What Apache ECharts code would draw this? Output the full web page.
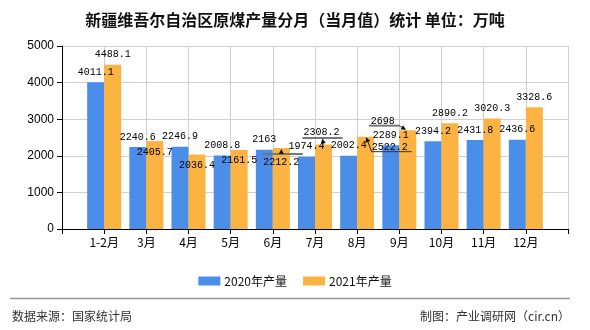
<!DOCTYPE html>
<html>
<head>
<meta charset="utf-8">
<script src="https://cdn.jsdelivr.net/npm/echarts@6/dist/echarts.min.js"></script>
<style>
html,body{margin:0;padding:0;background:#fff;}
#c{width:590px;height:330px;}
</style>
</head>
<body>
<div id="c"></div>
<script>
// ---- data ----
const categories = ['1-2月','3月','4月','5月','6月','7月','8月','9月','10月','11月','12月'];
const seriesNames = ['2020年产量','2021年产量'];
const values2020 = [4011.1,2240.6,2246.9,2008.8,2163,1974.4,2002.4,2289.1,2394.2,2431.8,2436.6];
const values2021 = [4488.1,2405.7,2036.4,2161.5,2212.2,2308.2,2522.2,2698,2890.2,3020.3,3328.6];
const yTicks = [0,1000,2000,3000,4000,5000];
const titleText = '新疆维吾尔自治区原煤产量分月（当月值）统计 单位：万吨';
const sourceText = '数据来源：国家统计局';
const creditText = '制图：产业调研网（cir.cn）';

// ---- layout / style ----
const BLUE = '#4a8eea';
const ORANGE = '#fbb341';
const BAR_W = 17;
const LABEL_FONT = {fontFamily:'Liberation Mono', fontSize:10, color:'#000'};
// label displacements (px) for the 2021 labels that were moved in the original
const orangeLabelShift = {1:[0,21],2:[0,21],3:[0,20],4:[0,24],5:[-2,-2],6:[24,21],7:[-25,1]};
// leader line shapes relative to the bar top (px)
const leaders = {
  4: {poly:[[-19.5,6],[21.5,6]], arrow:[[0,6],[0,1]], color:'#777', w:2},
  5: {poly:[[-21,-6.5],[19,-6.5]], arrow:[[0,0],[-1,-6]], color:'#777', w:2},
  6: {poly:[[6,15],[46,15]], arrow:[[6,15],[0.5,0.5]], color:'#333', w:1},
  7: {poly:[[-39,-4.6],[-8.5,-4.6]], arrow:[[-8.5,-4.6],[-1.8,-0.3]], color:'#777', w:2}
};

const axisCats = [''].concat(categories, ['']);
const pad = arr => ['-'].concat(arr, ['-']);

const blueData = pad(values2020);
const orangeData = ['-'].concat(values2021.map((v,i) => {
  const s = orangeLabelShift[i];
  return s ? {value:v, label:{offset:s}} : v;
}), ['-']);

const leaderData = Object.keys(leaders).map(k => [Number(k)+1, values2021[Number(k)], Number(k)]);

function renderLeader(params, api){
  const idx = api.value(2);
  const p = api.coord([api.value(0), api.value(1)]);
  const ax = p[0] + BAR_W/2, ay = p[1];
  const L = leaders[idx];
  const pts = L.poly.map(q => [ax+q[0], ay+q[1]]);
  const a0 = [ax+L.arrow[0][0], ay+L.arrow[0][1]];
  const a1 = [ax+L.arrow[1][0], ay+L.arrow[1][1]];
  const dx = a1[0]-a0[0], dy = a1[1]-a0[1];
  const len = Math.sqrt(dx*dx+dy*dy) || 1;
  const ux = dx/len, uy = dy/len;
  const hl = 5, hw = 2.5;
  const base = [a1[0]-ux*hl, a1[1]-uy*hl];
  const tri = [a1, [base[0]-uy*hw, base[1]+ux*hw], [base[0]+uy*hw, base[1]-ux*hw]];
  return {type:'group', children:[
    {type:'polyline', shape:{points:pts}, style:{stroke:L.color, lineWidth:L.w, fill:null}},
    {type:'polyline', shape:{points:[a0, base]}, style:{stroke:'#222', lineWidth:1, fill:null}},
    {type:'polygon', shape:{points:tri}, style:{fill:'#111'}}
  ]};
}

const chart = echarts.init(document.getElementById('c'), null, {renderer:'canvas'});
chart.setOption({
  animation:false,
  backgroundColor:'#fff',
  title:{
    text:titleText, left:'center', top:7,
    textStyle:{fontFamily:'Noto Sans CJK SC', fontSize:16, fontWeight:'bold', color:'#111'}
  },
  legend:{
    data:seriesNames, top:270, left:'center', itemWidth:22, itemHeight:9, itemGap:16,
    icon:'rect',
    textStyle:{fontFamily:'Noto Sans CJK SC', fontSize:12, color:'#111', padding:[0,0,0,-1]}
  },
  grid:{left:62, right:22, top:46, bottom:101, containLabel:false},
  xAxis:{
    type:'category', data:axisCats, boundaryGap:false,
    axisLine:{lineStyle:{color:'#000'}},
    axisTick:{length:5, lineStyle:{color:'#000'}},
    axisLabel:{fontFamily:'Noto Sans CJK SC', fontSize:12, color:'#000', margin:7, interval:0},
    splitLine:{show:true, lineStyle:{color:'#d0d0d0'}}
  },
  yAxis:{
    type:'value', min:yTicks[0], max:yTicks[yTicks.length-1], interval:yTicks[1]-yTicks[0],
    axisLine:{show:true, lineStyle:{color:'#000'}},
    axisTick:{show:true, length:5, lineStyle:{color:'#000'}},
    axisLabel:{fontFamily:'Liberation Sans', fontSize:12, color:'#000', margin:8,
      formatter: v => String(v)},
    splitLine:{lineStyle:{color:'#d0d0d0'}}
  },
  series:[
    {name:seriesNames[0], type:'bar', data:blueData, barWidth:BAR_W, barGap:'0%',
     itemStyle:{color:BLUE},
     label:Object.assign({show:true, position:'top', distance:5}, LABEL_FONT)},
    {name:seriesNames[1], type:'bar', data:orangeData, barWidth:BAR_W, barGap:'0%',
     itemStyle:{color:ORANGE},
     label:Object.assign({show:true, position:'top', distance:5}, LABEL_FONT)},
    {type:'custom', data:leaderData, renderItem:renderLeader, silent:true, z:5,
     encode:{x:0, y:1}}
  ],
  graphic:[
    {type:'line', shape:{x1:10, y1:298.5, x2:570, y2:298.5}, style:{stroke:'#999', lineWidth:1.5}},
    {type:'text', left:12, top:310, style:{text:sourceText, font:'12px "Noto Sans CJK SC"', fill:'#333'}},
    {type:'text', right:20, top:310, style:{text:creditText, font:'12px "Noto Sans CJK SC"', fill:'#333'}}
  ]
});
</script>
</body>
</html>
